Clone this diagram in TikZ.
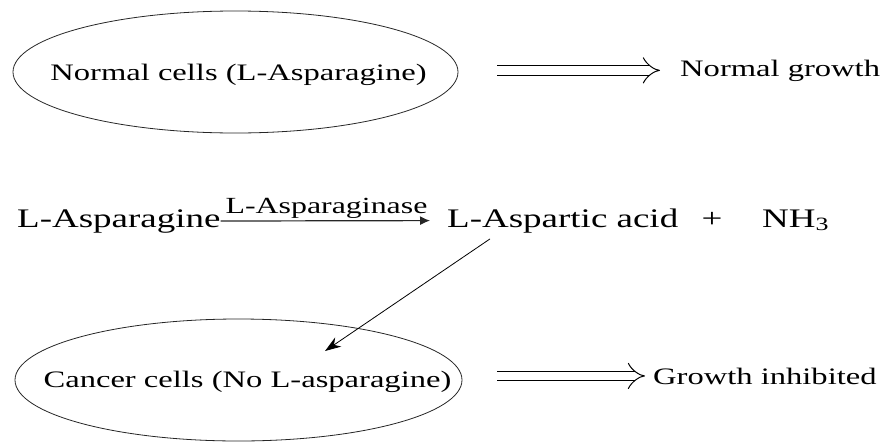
\documentclass[tikz,border=0pt]{standalone}
\usepackage{fontspec}
\setmainfont{Liberation Serif}[FakeStretch=1.38]
\usetikzlibrary{arrows.meta,shapes.geometric,calc}

\tikzset{
  cell/.style={draw=black!85, ellipse, line width=0.8pt, inner sep=0pt},
  word/.style={inner sep=0pt, anchor=base west, font=\fontsize{23.6}{28}\selectfont},
  chem/.style={inner sep=0pt, anchor=base west, font=\fontsize{26.8}{32}\selectfont},
  enz/.style={inner sep=0pt, anchor=base, font=\fontsize{23.1}{27}\selectfont},
  imply/.style={draw=black, double, double distance=8.5pt, line width=1pt, -{Implies}},
}

\begin{document}
\begin{tikzpicture}[x=1pt,y=1pt,yscale=-1]
	% Set the frame to the reference size
	\useasboundingbox (0,0) rectangle (891,442);

	% Normal cells and their growth
	\node[cell, minimum width=445pt, minimum height=122pt] (normal) at (235.5,72) {};
	\node[word, anchor=base] (normaltxt) at (238.5,80) {Normal cells (L-Asparagine)};
	\node[word] (ngrowth) at (680,76) {Normal growth};
	\draw[imply, shorten <=39pt, shorten >=20pt] (normal.east |- ngrowth.west) -- (ngrowth.west);

	% The reaction
	\node[chem] (asn) at (17,227) {L-Asparagine};
	\node[chem] (asp) at (447,227) {L-Aspartic acid};
	\node[chem, anchor=base] (plus) at (712,227) {+};
	\node[chem] (nh3) at (762,227) {NH\textsubscript{3}};
	\node[enz] (enzyme) at (326.5,213) {L-Asparaginase};
	\draw[line width=1.2pt, draw=black!85, -{Latex[length=10pt,width=9pt]}, shorten >=17pt] (asn.east) -- (asp.west);

	% Cancer cells and their growth
	\node[cell, minimum width=447pt, minimum height=122pt] (cancer) at (238.5,380) {};
	\node[word, anchor=base] (cancertxt) at (247.5,387) {Cancer cells (No L-asparagine)};
	\node[word] (ginhib) at (653,384) {Growth inhibited};
	\draw[imply, shorten <=35pt, shorten >=8pt] (cancer.east |- ginhib.west) -- (ginhib.west);

	% Aspartic acid reaches the cancer cells
	\coordinate (aspfoot) at ($(asp.south west)+(43,6)$);
	\coordinate (hit) at ($(cancer.center)+(86.5,-29)$);
	\draw[line width=0.8pt, -{Stealth[length=16pt,width=11pt]}] (aspfoot) -- (hit);
\end{tikzpicture}
\end{document}
